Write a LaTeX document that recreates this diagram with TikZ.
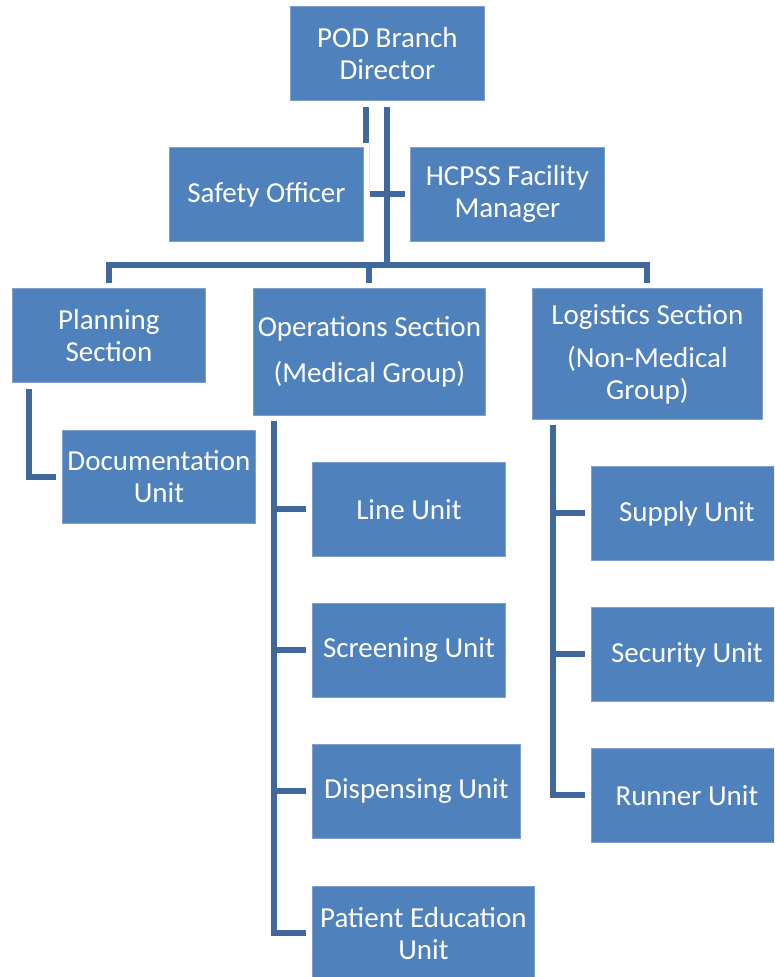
\documentclass[tikz,border=0pt]{standalone}
\usepackage{fontspec}
\setmainfont{Carlito}
\usetikzlibrary{calc}
\definecolor{boxfill}{RGB}{79,129,189}
\definecolor{boxedge}{RGB}{125,160,208}
\definecolor{conncol}{RGB}{65,104,156}
\definecolor{faint}{RGB}{222,230,241}
\tikzset{
  orgbox/.style={rectangle, fill=boxfill, draw=boxedge, line width=0.8pt, text=white,
    align=center, font=\fontsize{29}{32}\selectfont, inner sep=0pt, anchor=north west},
  conn/.style={draw=conncol, line width=6pt, line join=miter, line cap=butt},
}
\begin{document}
\begin{tikzpicture}[x=1pt,y=-1pt]
\useasboundingbox (0,0) rectangle (774,977);
\clip (0,0) rectangle (774,977);
\node[orgbox, minimum width=194pt, minimum height=94pt] (pod) at (290,6) {POD Branch\\Director};
\node[orgbox, minimum width=194pt, minimum height=94pt] (safety) at (169,147) {Safety Officer};
\node[orgbox, minimum width=194pt, minimum height=94pt] (hcpss) at (410,147) {HCPSS Facility\\Manager};
\node[orgbox, minimum width=193pt, minimum height=94pt] (planning) at (12,288) {Planning\\Section};
\node[orgbox, minimum width=232pt, minimum height=127pt] (ops) at (253,288) {Operations Section\\[14pt](Medical Group)};
\node[orgbox, minimum width=230pt, minimum height=131pt] (logi) at (532,288) {Logistics Section\\[11pt](Non-Medical\\Group)};
\node[orgbox, minimum width=193pt, minimum height=93pt] (docu) at (62,430) {Documentation\\Unit};
\node[orgbox, minimum width=193pt, minimum height=94pt] (lineu) at (312,462) {Line Unit};
\node[orgbox, minimum width=193pt, minimum height=94pt] (screen) at (312,603) {Screening Unit};
\node[orgbox, minimum width=208pt, minimum height=94pt] (disp) at (312,744) {Dispensing Unit};
\node[orgbox, minimum width=222pt, minimum height=94pt] (patient) at (312,886) {Patient Education\\Unit};
\node[orgbox, minimum width=191pt, minimum height=94pt] (supply) at (591,466) {Supply Unit};
\node[orgbox, minimum width=191pt, minimum height=94pt] (security) at (591,607) {Security Unit};
\node[orgbox, minimum width=191pt, minimum height=94pt] (runner) at (591,748) {Runner Unit};

% top connectors
\coordinate (barL) at ($(planning.north)+(0,-5)$);
\coordinate (barR) at ($(logi.north)+(0,-5)$);
\coordinate (barY) at (0,265);
\draw[conn] ($(pod.south)+(-21,6)$) -- ($(pod.south)+(-21,42)$);
\draw[faint, line width=1pt] ($(pod.south)+(-18,42)$) -- ($(pod.south)+(-18,91)$);
\draw[conn] ($(pod.south)+(0,6)$) -- (pod.south |- barY);
\draw[conn] ($(safety.east)+(6,0)$) -- ($(hcpss.west)+(-5,0)$);
\draw[conn] (barL) -- (barL |- barY) -- (barR |- barY) -- (barR);
\draw[conn] (ops.north |- barY) -- ($(ops.north)+(0,-5)$);

% planning
\draw[conn] ($(planning.south west)+(17,6)$) |- ($(docu.west)+(-6,0)$);

% operations
\coordinate (opsTop) at ($(ops.south west)+(21,5)$);
\draw[conn] (opsTop) |- ($(patient.west)+(-6,0)$);
\draw[conn] (opsTop |- lineu.west) -- ($(lineu.west)+(-6,0)$);
\draw[conn] (opsTop |- screen.west) -- ($(screen.west)+(-6,0)$);
\draw[conn] (opsTop |- disp.west) -- ($(disp.west)+(-6,0)$);

% logistics
\coordinate (logTop) at ($(logi.south west)+(21,5)$);
\draw[conn] (logTop) |- ($(runner.west)+(-6,0)$);
\draw[conn] (logTop |- supply.west) -- ($(supply.west)+(-6,0)$);
\draw[conn] (logTop |- security.west) -- ($(security.west)+(-6,0)$);
\end{tikzpicture}
\end{document}
